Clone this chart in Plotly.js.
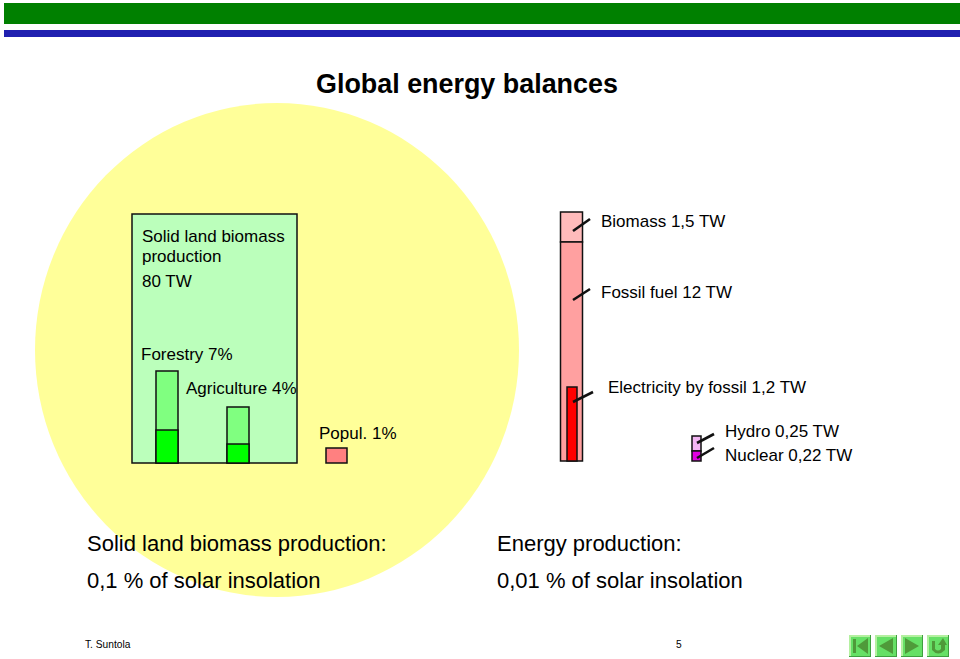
<!DOCTYPE html>
<html><head><meta charset="utf-8">
<script src="https://cdn.plot.ly/plotly-3.0.1.min.js"></script>
<style>html,body{margin:0;padding:0;background:#fff;overflow:hidden}#c{width:960px;height:659px}</style>
</head><body><div id="c"></div>
<script>
// Bars: names, top and bottom edges
const barNames   = ["Solid land biomass","Forestry","Forestry harvest","Agriculture","Agriculture harvest","Population","Biomass","Fossil fuel","Electricity","Hydro","Nuclear"];
const barTops    = [214,371,430,407,444,448,212,242,387,436,451];
const barBottoms = [463,463,463,463,463,463,242,461,461,451,461];
const barCentres = [214.5,167,167,238,238,336.5,571.5,571.5,572,696.5,696.5];
const barWidths  = [165,22,22,22,22,21,22,22,10,9,9];
const barColours = ["#bbffbb","#80ff80","#00ff00","#80ff80","#00ff00","#ff8080","#ffbbbb","#ffa0a0","#ff0000","#f3b5f3","#e000e0"];

// Labels
const titleText = "Global energy balances";
const labelTexts = ["Solid land biomass","production","80 TW","Forestry 7%","Agriculture 4%","Popul. 1%","Biomass 1,5 TW","Fossil fuel 12 TW","Electricity by fossil 1,2 TW","Hydro 0,25 TW","Nuclear 0,22 TW"];
const labelX = [142,142,142,141,186,319,601,601,608,725,725];
const labelY = [236,256,281,354,388,433,221,292,387,431,455];
const summaryTexts = ["Solid land biomass production:","0,1 % of solar insolation","Energy production:","0,01 % of solar insolation"];
const summaryX = [86.5,86.5,497,497];
const summaryY = [543,580,543,580];

// Leader ticks: [x0,y0,x1,y1]
const leaders = [[573,231,590,219],[573,300,590,289],[573,402,593,392],[697,443,714,434],[697,458,714,448]];

const font = "Liberation Sans, Arial, sans-serif";
const traces = barNames.map((n,i)=>({
  type:"bar", name:n, x:[barCentres[i]], y:[barBottoms[i]-barTops[i]], base:[barTops[i]],
  width:[barWidths[i]], marker:{color:barColours[i],line:{color:"#111",width:1.5}}, hoverinfo:"name", showlegend:false
}));

const rect=(x0,y0,x1,y1,fill,line)=>({type:"rect",xref:"x",yref:"y",x0,y0,x1,y1,fillcolor:fill,line:line||{width:0}});
const path=(p,fill)=>({type:"path",xref:"x",yref:"y",path:p,fillcolor:fill,line:{width:0}});
const shapes=[
  rect(4,3,960,24,"#008000"),
  rect(4,30,960,37,"#2020b0"),
  {type:"circle",xref:"x",yref:"y",x0:35,y0:103,x1:519,y1:597,fillcolor:"#ffff99",line:{width:0},layer:"below"},
  ...leaders.map(l=>({type:"line",xref:"x",yref:"y",x0:l[0],y0:l[1],x1:l[2],y1:l[3],line:{color:"#111",width:2.6}}))
];
// Navigation buttons
const btnX=[849,875,901,927], btnG="#4f9a3a";
btnX.forEach(x=>{
  shapes.push(rect(x,635,x+22,657,"#3f9f3f"));
  shapes.push(rect(x,635,x+21,656,"#b4f0a0"));
  shapes.push(rect(x+2,637,x+21,656,"#66e066"));
});
shapes.push(rect(853,639,856,653,btnG));
shapes.push(path("M857 646 L868 638 L868 654 Z",btnG));
shapes.push(path("M879 646 L893 638 L893 654 Z",btnG));
shapes.push(path("M905 638 L919 646 L905 654 Z",btnG));
shapes.push(path("M932 641 L935 641 L935 649 Q938 652 941 649 L941 645 L938 645 L943 638 L947 645 L945 645 L945 650 Q938 657 932 650 Z",btnG));

const ann=(text,x,y,size,extra)=>Object.assign({xref:"x",yref:"y",x,y,text,showarrow:false,xanchor:"left",yanchor:"middle",
  font:{family:font,size,color:"#000"},borderpad:0,borderwidth:0},extra||{});
const annotations=[
  ann("<b>"+titleText+"</b>",467,83.5,26.9,{xanchor:"center"}),
  ...labelTexts.map((t,i)=>ann(t,labelX[i],labelY[i],17)),
  ...summaryTexts.map((t,i)=>ann(t,summaryX[i],summaryY[i],22)),
  ann("T. Suntola",85,644.5,10.2),
  ann("5",676,644.5,10.2)
];
const hidden={visible:false,fixedrange:true};
Plotly.newPlot("c",traces,{
  width:960,height:659,margin:{l:0,r:0,t:0,b:0},paper_bgcolor:"#fff",plot_bgcolor:"rgba(0,0,0,0)",
  barmode:"overlay",showlegend:false,
  xaxis:Object.assign({range:[0,960]},hidden),
  yaxis:Object.assign({range:[659,0]},hidden),
  shapes,annotations
},{displayModeBar:false,staticPlot:true});
</script></body></html>
